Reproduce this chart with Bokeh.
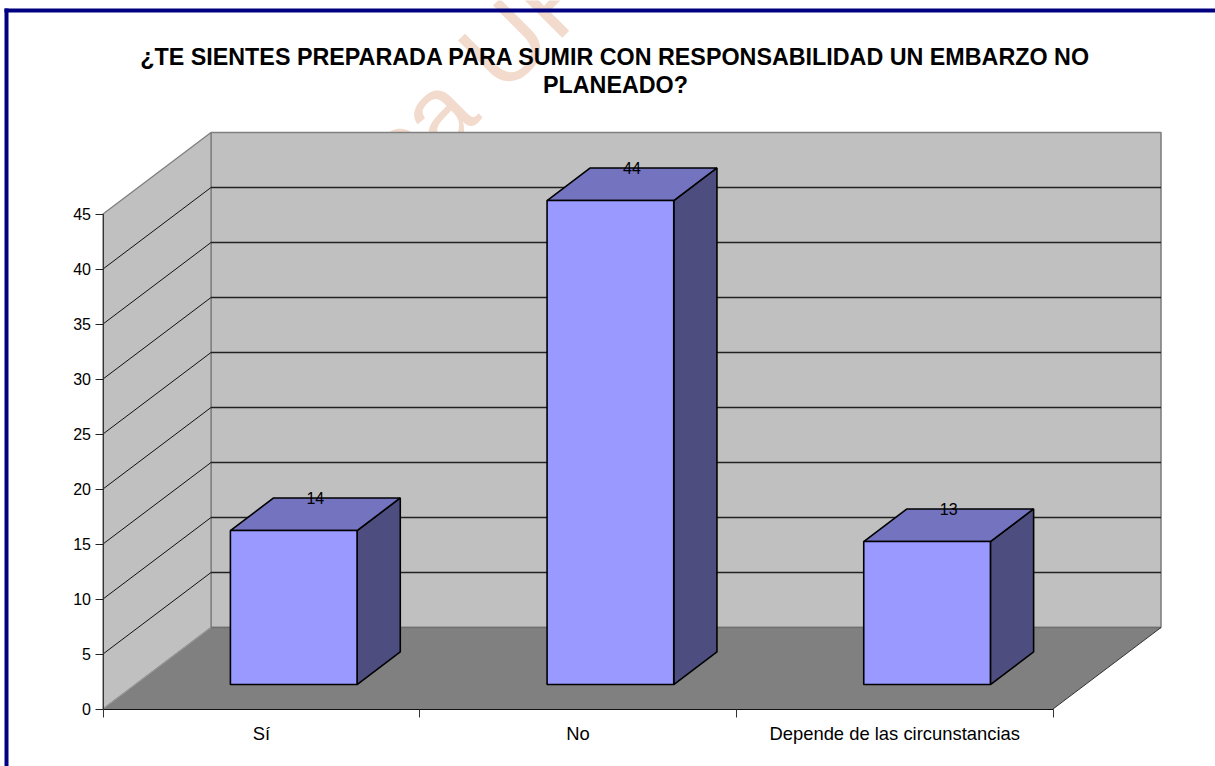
from bokeh.plotting import figure
from bokeh.embed import file_html
from bokeh.resources import INLINE
from bokeh.models import Range1d, FixedTicker, Label, BoxAnnotation, LinearAxis
from bokeh.core.properties import value as bvalue

TITLE = "¿TE SIENTES PREPARADA PARA SUMIR CON RESPONSABILIDAD UN EMBARZO NO\nPLANEADO?"
categories = ["Sí", "No", "Depende de las circunstancias"]
values = [14, 44, 13]
y_ticks = [0, 5, 10, 15, 20, 25, 30, 35, 40, 45]
WATERMARK = "ca UP"

FONT = "Liberation Sans"
W, H = 1215, 766
ORIGIN_X, ORIGIN_Y = 102.5, 708.5
PX_X = 316.67      # px per category
PX_Y = 11.0        # px per value unit
DX = 108 / PX_X    # depth shift, category units
DY = 81.5 / PX_Y   # depth shift, value units
YMAX = y_ticks[-1]
NCAT = len(categories)
GAP = 0.3          # bar x-inset
BAR_W = 0.4        # share of the category
D0, D1 = 0.3, 0.7  # bar depth span

WALL, FLOOR, EDGE, GRID = "#C0C0C0", "#808080", "#808080", "#222222"
FRONT, TOPC, SIDE = "#9999FF", "#7373BF", "#4D4D80"
NAVY = "#000080"

def X(px):
    return (px - ORIGIN_X) / PX_X
def Y(py):
    return (ORIGIN_Y - py) / PX_Y

p = figure(width=W, height=H, output_backend="svg", toolbar_location=None,
           x_range=Range1d(X(0), X(W)), y_range=Range1d(Y(H), Y(0)),
           min_border=0, x_axis_type=None, y_axis_type=None, outline_line_color=None,
           background_fill_color="white", border_fill_color="white")
p.xgrid.visible = False
p.ygrid.visible = False

# Walls and floor
p.patch([DX, NCAT + DX, NCAT + DX, DX], [DY, DY, YMAX + DY, YMAX + DY],
        fill_color=WALL, line_color=EDGE, line_width=1.6)
p.patch([0, DX, DX, 0], [0, DY, YMAX + DY, YMAX],
        fill_color=WALL, line_color=EDGE, line_width=1.4)
p.patch([0, NCAT, NCAT + DX, DX], [0, 0, DY, DY],
        fill_color=FLOOR, line_color=None)
p.line([DX, NCAT + DX], [DY, DY], line_color="#6f6f6f", line_width=1.6)
p.line([0, DX], [0, DY], line_color="#9a9a9a", line_width=1)
p.line([NCAT, NCAT + DX], [0, DY], line_color="#333333", line_width=1)

# Gridlines across both walls
grid = y_ticks[1:-1]
p.multi_line([[0, DX] for _ in grid], [[v, v + DY] for v in grid],
             line_color="#111111", line_width=1)
p.multi_line([[DX, NCAT + DX] for _ in grid], [[v + DY, v + DY] for v in grid],
             line_color=GRID, line_width=1.3)

# Bars
xs_front, ys_front, xs_top, ys_top, xs_side, ys_side = [], [], [], [], [], []
lx, ly = [], []
for i, v in enumerate(values):
    x0 = i + GAP
    x1 = x0 + BAR_W
    a, b = D0 * DX, D1 * DX
    c, d = D0 * DY, D1 * DY
    xs_front.append([x0 + a, x1 + a, x1 + a, x0 + a])
    ys_front.append([c, c, v + c, v + c])
    xs_top.append([x0 + a, x1 + a, x1 + b, x0 + b])
    ys_top.append([v + c, v + c, v + d, v + d])
    xs_side.append([x1 + a, x1 + b, x1 + b, x1 + a])
    ys_side.append([c, d, v + d, v + c])
    lx.append((x0 + x1) / 2 + (a + b) / 2)
    ly.append(v + d)
p.patches(xs_side, ys_side, fill_color=SIDE, line_color="black", line_width=1.6)
p.patches(xs_top, ys_top, fill_color=TOPC, line_color="black", line_width=1.6)
p.patches(xs_front, ys_front, fill_color=FRONT, line_color="black", line_width=1.6)
p.text(lx, ly, text=[str(v) for v in values], text_font=bvalue(FONT),
       text_font_size="16px", text_color="#000000", text_align="center",
       text_baseline="middle")

# Axes: fixed at the data origin, so the plot frame can span the whole page
ya = LinearAxis(ticker=FixedTicker(ticks=y_ticks), bounds=(0, YMAX), fixed_location=0)
ya.axis_line_color = "#333333"
ya.major_tick_line_color = "#222222"
ya.major_tick_in = 0
ya.major_tick_out = 8
ya.minor_tick_line_color = None
ya.major_label_standoff = 4
ya.major_label_text_font = FONT
ya.major_label_text_font_size = "16px"
ya.major_label_text_color = "#000000"
p.add_layout(ya, "left")

centers = [i + 0.5 for i in range(NCAT)]
xa = LinearAxis(ticker=FixedTicker(ticks=centers, minor_ticks=list(range(NCAT + 1))),
                bounds=(0, NCAT), fixed_location=0)
xa.major_label_overrides = dict(zip(centers, categories))
xa.axis_line_color = "#111111"
xa.major_tick_line_color = None
xa.major_tick_in = 0
xa.major_tick_out = 0
xa.minor_tick_line_color = "#333333"
xa.minor_tick_in = 0
xa.minor_tick_out = 8
xa.major_label_standoff = 6
xa.major_label_text_font = FONT
xa.major_label_text_font_size = "18.4px"
xa.major_label_text_color = "#000000"
p.add_layout(xa, "below")

# Title, watermark, page frame
p.add_layout(Label(x=X(615), y=Y(70.5), text=TITLE, text_font=FONT, text_font_size="23.3px",
                   text_font_style="bold", text_align="center", text_baseline="middle",
                   text_color="#000000", text_line_height=1.07))
p.add_layout(Label(x=X(379), y=Y(169), text=WATERMARK, text_font=FONT, text_font_size="104px",
                   text_color="#F2DACD", angle=45, angle_units="deg", level="underlay",
                   text_align="left", text_baseline="alphabetic"))
p.add_layout(BoxAnnotation(left=X(4), right=X(1215), top=Y(8), bottom=Y(12),
                           fill_color=NAVY, fill_alpha=1, line_color=None))
p.add_layout(BoxAnnotation(left=X(4), right=X(8), top=Y(8), bottom=Y(766),
                           fill_color=NAVY, fill_alpha=1, line_color=None))

open("out.html", "w").write(file_html(p, INLINE))
